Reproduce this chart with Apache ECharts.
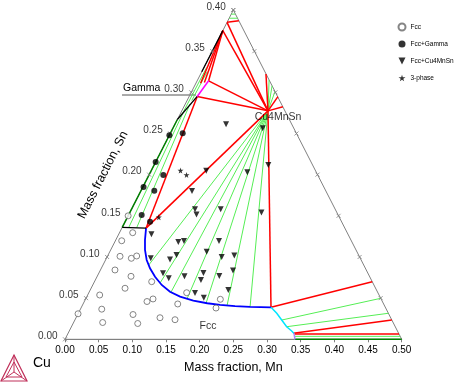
<!DOCTYPE html>
<html><head><meta charset="utf-8">
<script src="https://cdn.jsdelivr.net/npm/echarts@6/dist/echarts.min.js"></script>
<style>html,body{margin:0;padding:0;background:#fff}#c{width:456px;height:383px}</style>
</head><body><div id="c"></div>
<script>
// ---- Data (mass fractions: [Mn, Sn]) ----
const mnTicks = [0, 0.05, 0.10, 0.15, 0.20, 0.25, 0.30, 0.35, 0.40, 0.45, 0.50];
const snTicks = [0, 0.05, 0.10, 0.15, 0.20, 0.25, 0.30, 0.35, 0.40];
const snTickLabels = ["0.00","0.05","0.10","0.15","0.20","0.25","0.30","0.35","0.40"];

const fccPts = [[0.0196,0.1295],[0.0094,0.1197],[0.0187,0.1008],[0.037,0.0984],[0.0432,0.1012],[0.0216,0.0842],[0.0502,0.0765],[0.0504,0.062],[0.085,0.070],[0.0179,0.0538],[0.0931,0.0459],[0.1001,0.049],[0.0317,0.0366],[0,0.031],[0.0822,0.0301],[0.1247,0.0262],[0.0432,0.0204],[0.096,0.0192],[0.1485,0.0238],[0.1406,0.0429],[0.1453,0.0566],[0.2005,0.038],[0.2003,0.0486],[0,0.150]];
const fccGammaPts = [[0,0.248],[0.0184,0.2502],[0,0.2154],[0.0212,0.1996],[0.001,0.185],[0.0198,0.1805],[0.0195,0.151],[0.037,0.1429]];
const fccCu4Pts = [[0.0759,0.2612],[0.1334,0.2563],[0.1696,0.2117],[0.0818,0.2048],[0.1439,0.2029],[0.076,0.1801],[0.0944,0.1579],[0.1005,0.1516],[0.1325,0.1579],[0.1955,0.154],[0.0487,0.1275],[0.0944,0.1182],[0.1021,0.1194],[0.1541,0.1194],[0.1439,0.1064],[0.1702,0.1000],[0.1878,0.1018],[0.1016,0.1024],[0.0954,0.0969],[0.0658,0.0984],[0.0954,0.0802],[0.1078,0.0741],[0.1296,0.0765],[0.1553,0.0805],[0.1569,0.072],[0.1811,0.0769],[0.1972,0.0836],[0.1579,0.0562],[0.1746,0.0504],[0.2051,0.0599]];
const threePhasePts = [[0.0434,0.205],[0.0557,0.1996],[0.0467,0.1482]];

const cu4MnSn = [0.128, 0.2775];
const fccBoundary = [[0.036,0.135],[0.0434,0.1206],[0.051,0.1085],[0.0611,0.0963],[0.0723,0.0863],[0.0862,0.076],[0.1024,0.066],[0.1198,0.0578],[0.1385,0.0518],[0.1612,0.0469],[0.1838,0.0438],[0.2042,0.0418],[0.2273,0.0403],[0.2502,0.0394],[0.2816,0.0389]];
const fccBoundary2 = [[0.2816,0.0389],[0.2947,0.0316],[0.3072,0.0234],[0.3196,0.0153],[0.3303,0.0101],[0.3357,0.0071]];
const lilacLine = [[0.3357,0.0071],[0.3415,0]];
const blackLines = [
  [[0,0.136],[0.036,0.135]],
  [[0,0.267],[0.012,0.295]],
  [[0,0.325],[0,0.375]]
];
const magentaLine = [[0.012,0.295],[0.017,0.314]];
const redLines = [
  [[0.036,0.135],[0.012,0.295]],
  [[0.036,0.135],[0.128,0.2775]],
  [[0.012,0.295],[0.128,0.2775]],
  [[0.017,0.314],[0.128,0.2775]],
  [[0,0.375],[0.128,0.2775]],
  [[0,0.385],[0.128,0.2775]],
  [[0,0.385],[0.0163,0.387]],
  [[0,0.375],[0.007,0.311]],
  [[0,0.375],[0.012,0.312]],
  [[0,0.375],[0.017,0.314]],
  [[0.128,0.2775],[0.097,0.3223]],
  [[0.128,0.2775],[0.132,0.2947]],
  [[0.128,0.2775],[0.147,0.2825]],
  [[0.128,0.2775],[0.2816,0.0389]],
  [[0.2816,0.0389],[0.4125,0.070]],
  [[0.3345,0.0073],[0.4707,0.0234]],
  [[0.3375,0.0064],[0.492,0.0064]]
];
const tieStarts = [[0.068,0.0903],[0.0984,0.0684],[0.1216,0.0572],[0.1505,0.0492],[0.1821,0.0437],[0.2151,0.0408],[0.2502,0.0394]];
const greenLines = [
  [[0.128,0.2775],[0.10625,0.315]],
  [[0.128,0.2775],[0.115,0.308]],
  [[0.128,0.2775],[0.12375,0.301]],
  [[0.3072,0.0234],[0.4378,0.0498]],
  [[0.3196,0.0153],[0.4605,0.0316]],
  [[0.339,0.0036],[0.4955,0.0036]],
  [[0.0098,0.1357],[0.0034,0.2749]],
  [[0.0217,0.1357],[0.007,0.2858]],
  [[0.003,0.27],[0.004,0.33]],
  [[0.007,0.29],[0.008,0.325]],
  [[0,0.39],[0.0125,0.39]],
  [[0,0.395],[0.006,0.395]]
];
const darkGreenLines = [
  [[0,0.136],[0,0.267]],
  [[0.3415,0],[0.5,0]]
];
const borderLine = [[0,0],[0.5,0],[0,0.4],[0,0]];
const phaseLabels = [{text:"Cu4MnSn", at:[0.1474,0.2702]},{text:"Fcc", at:[0.2023,0.0162]}];

// ---- ternary (isosceles) projection: x = Mn + k*Sn ----
const K = 0.25 / 0.4;
function tern(p){ return [p[0] + K*p[1], p[1]]; }
function segs(list){ return list.map(s => ({coords: s.map(tern)})); }
function rightEdgeMn(sn){ return 0.5*(1 - sn/0.4); }

const FONT = "Liberation Sans, Arial, sans-serif";
function linesSeries(name, data, color, width, z){
  return {type:'lines', name:name, coordinateSystem:'cartesian2d', polyline:true, silent:true, z:z,
    data: segs(data), lineStyle:{color:color, width:width, opacity:1, curveness:0}};
}
const tieLines = tieStarts.map(s => [s, cu4MnSn]);

const chart = echarts.init(document.getElementById('c'), null, {renderer:'canvas'});
const starPath = 'path://M50,0 L61,35 L98,35 L68,57 L79,91 L50,70 L21,91 L32,57 L2,35 L39,35 Z';
const downTriPath = 'path://M0,0 L10,0 L5,10 Z';
const xTickPath = 'path://M0,0 L10,10 M0,10 L10,0';

chart.setOption({
  animation:false,
  textStyle:{fontFamily:FONT},
  grid:{left:65, top:10, width:336.7, height:329.3, containLabel:false},
  xAxis:{type:'value', min:0, max:0.5, interval:0.05,
    name:'Mass fraction, Mn', nameLocation:'middle', nameGap:22,
    nameTextStyle:{fontSize:12.5, color:'#000', fontFamily:FONT},
    axisLine:{show:true, lineStyle:{color:'#808080', width:1}},
    axisTick:{show:true, length:3, lineStyle:{color:'#808080'}},
    axisLabel:{fontSize:10, color:'#000', margin:6, formatter:v => v.toFixed(2), fontFamily:FONT},
    splitLine:{show:false}},
  yAxis:{type:'value', min:0, max:0.4, show:false},
  legend:{orient:'vertical', left:397.5, top:22.5, padding:0, itemWidth:7, itemHeight:7, itemGap:8,
    textStyle:{fontSize:6.5, color:'#000', lineHeight:9, fontFamily:FONT},
    data:['Fcc','Fcc+Gamma','Fcc+Cu4MnSn','3-phase']},
  series:[
    linesSeries('border', [borderLine], '#808080', 1, 1),
    linesSeries('ties', tieLines, '#55ee55', 1, 2),
    linesSeries('green', greenLines, '#55ee55', 1, 2),
    linesSeries('dkgreen', darkGreenLines, '#008000', 1.5, 3),
    linesSeries('red', redLines, '#ff0000', 1.5, 3),
    linesSeries('blue', [fccBoundary], '#0000ff', 1.8, 3),
    linesSeries('cyan', [fccBoundary2], '#00e5ff', 1.5, 3),
    linesSeries('lilac', [lilacLine], '#b080ff', 1.5, 3),
    linesSeries('black', blackLines, '#000000', 1.3, 3),
    linesSeries('magenta', [magentaLine], '#ff00ff', 1.5, 3),
    {type:'scatter', name:'leftTicks', silent:true, z:4, symbol:xTickPath, symbolSize:4,
      itemStyle:{color:'none', borderColor:'#808080', borderWidth:1},
      data: snTicks.map(s => tern([0,s])),
      label:{show:true, position:'left', distance:3, offset:[0,-3], fontSize:10, color:'#000', fontFamily:FONT,
        formatter:p => snTickLabels[p.dataIndex]}},
    {type:'scatter', name:'rightTicks', silent:true, z:4, symbol:xTickPath, symbolSize:4,
      itemStyle:{color:'none', borderColor:'#808080', borderWidth:1},
      data: snTicks.slice(1).map(s => tern([rightEdgeMn(s), s]))},
    {type:'scatter', name:'Fcc', z:5, symbol:'circle', symbolSize:6,
      itemStyle:{color:'#ffffff', borderColor:'#666666', borderWidth:1},
      data: fccPts.map(tern)},
    {type:'scatter', name:'Fcc+Gamma', z:5, symbol:'circle', symbolSize:6,
      itemStyle:{color:'#000000'}, data: fccGammaPts.map(tern)},
    {type:'scatter', name:'Fcc+Cu4MnSn', z:5, symbol:downTriPath, symbolSize:6,
      itemStyle:{color:'#000000'}, data: fccCu4Pts.map(tern)},
    {type:'scatter', name:'3-phase', z:5, symbol:starPath, symbolSize:6,
      itemStyle:{color:'#000000'}, data: threePhasePts.map(tern)},
    {type:'scatter', name:'phaseLabels', silent:true, z:6, symbolSize:0,
      data: phaseLabels.map(d => ({value: tern(d.at), name: d.text})),
      label:{show:true, position:'inside', fontSize:10.5, color:'#000', fontFamily:FONT, formatter:p => p.name}}
  ],
  graphic:[
    {type:'text', x:103, y:175, rotation:63*Math.PI/180,
      style:{text:'Mass fraction, Sn', fontSize:12.5, fill:'#000', font:'12.5px '+FONT, textAlign:'center', textVerticalAlign:'middle'}},
    {type:'text', x:123, y:88, style:{text:'Gamma', font:'10.5px '+FONT, fill:'#000', textAlign:'left', textVerticalAlign:'middle'}},
    {type:'line', shape:{x1:122, y1:95, x2:196, y2:95}, style:{stroke:'#555', lineWidth:1}},
    {type:'text', x:33, y:363, style:{text:'Cu', font:'14px '+FONT, fill:'#000', textAlign:'left', textVerticalAlign:'middle'}},
    {type:'group', x:0, y:0, children:[
      {type:'polygon', shape:{points:[[14,355],[27,381],[1,381]]}, style:{fill:'none', stroke:'#c0305a', lineWidth:1.2}},
      {type:'polygon', shape:{points:[[14,362],[22,377],[6,377]]}, style:{fill:'none', stroke:'#c0305a', lineWidth:1}},
      {type:'polyline', shape:{points:[[14,355],[14,372]]}, style:{stroke:'#c0305a', lineWidth:1}},
      {type:'polyline', shape:{points:[[1,381],[14,372],[27,381]]}, style:{stroke:'#c0305a', lineWidth:1}}
    ]}
  ]
});
</script></body></html>
